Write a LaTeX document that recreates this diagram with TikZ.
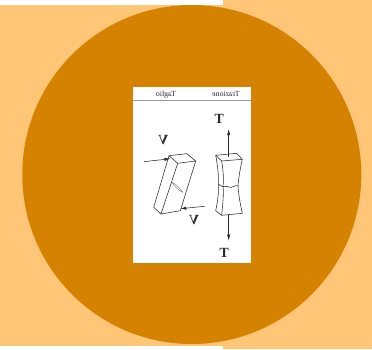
\documentclass[tikz,border=0pt]{standalone}
\usepackage{fontspec}
\setmainfont{Liberation Serif}
\usetikzlibrary{arrows.meta}
\definecolor{Peach}{HTML}{FFC677}
\definecolor{Ochre}{HTML}{D48200}
\definecolor{Rule}{HTML}{9A9A9A}
\definecolor{Ink}{HTML}{2A2A2A}

\begin{document}
\begin{tikzpicture}[
    x=1pt,y=-1pt,
    head/.style={xscale=-1,inner sep=0pt,font=\fontsize{7.8}{9}\selectfont,text=Ink},
    force/.style={xscale=-1,inner sep=0pt,font=\fontsize{14}{15}\selectfont\bfseries,text=Ink},
    edge/.style={draw=Ink,line width=.55pt,line join=round},
    arr/.style={-{Latex[length=6pt,width=3.2pt]},draw=Ink,line width=.55pt}
  ]
    \useasboundingbox (0,0) rectangle (372,349);
    % background
    \fill[white] (0,0) rectangle (372,349);
    \fill[Peach] (223,0) rectangle (372,349);
    \fill[Peach] (0,5) rectangle (223,346);
    \fill[Ochre] (191.8,174.5) circle (169.5);
    \fill[white] (133,87) rectangle (251,263);
    \draw[Rule,line width=.7pt] (133,100.8) -- (251,100.8);
    \fill[Rule] (133.8,95) circle (.5);
    % headings
    \node[head] (trazione) at (226,94.4) {Trazione};
    \node[head] (taglio) at (166,94.4) {Taglio};
    % block in shear
    \coordinate (b1) at (169,155.7);
    \coordinate (b2) at (186.7,153.7);
    \coordinate (b3) at (195.7,161);
    \coordinate (b4) at (177.7,163.3);
    \coordinate (b5) at (153.7,207.3);
    \coordinate (b6) at (161,214);
    \coordinate (b7) at (180.3,210.7);
    \draw[edge] (b1)--(b2)--(b3)--(b4)--cycle;
    \draw[edge] (b1)--(b5)--(b6)--(b4);
    \draw[edge] (b6)--(b7)--(b3);
    \draw[draw=Ink!70,line width=.35pt,fill=white] (172,182.3) .. controls (176,184) and (180,188) .. (182.7,192.3)
      .. controls (178.5,190) and (174.5,186.5) .. (172,182.3);
    \coordinate (vin) at (144,161.7);
    \coordinate (vtip) at (170.5,158.7);
    \coordinate (uin) at (204.7,206.3);
    \coordinate (utip) at (180.3,208.7);
    \draw[arr] (vin)--(vtip);
    \draw[arr] (uin)--(utip);
    \node[force] (vtop) at (163.3,140) {V};
    \node[force] (vbot) at (194,220) {V};
    % specimen in tension
    \coordinate (s1) at (215.7,155.3);
    \coordinate (s2) at (236.7,153.3);
    \coordinate (s3) at (242.3,159.3);
    \coordinate (s4) at (221.7,161);
    \coordinate (s5) at (215.7,210.7);
    \coordinate (s6) at (221.7,215.3);
    \coordinate (s7) at (242.3,213.3);
    \coordinate (c1) at (218.3,184);
    \coordinate (c2) at (223,186);
    \coordinate (c3) at (238,186);
    \draw[edge] (s1)--(s2)--(s3)--(s4)--cycle;
    \draw[edge] (s1) .. controls (217.5,165) and (219,176) .. (c1);
    \draw[edge] (s4) .. controls (223,170) and (224,178) .. (c2);
    \draw[edge] (s3) .. controls (240,170) and (238.5,178) .. (c3);
    \draw[edge] (c1) .. controls (224,189) and (226,185) .. (229,187)
      .. controls (232,189) and (235,184) .. (c3);
    \draw[edge] (c1) .. controls (219,193) and (217.5,202) .. (s5);
    \draw[edge] (c2) .. controls (224,195) and (222.5,205) .. (s6);
    \draw[edge] (c3) .. controls (238.5,195) and (240.5,205) .. (s7);
    \draw[edge] (s5)--(s6)--(s7);
    \coordinate (tin) at (228.7,156.5);
    \coordinate (ttip) at (228.7,129);
    \coordinate (bin) at (228.7,215);
    \coordinate (btip) at (228.7,240.7);
    \draw[arr] (tin)--(ttip);
    \draw[arr] (bin)--(btip);
    \node[force] (ttop) at (219.3,119) {T};
    \node[force] (tbot) at (224.3,252.5) {T};
  \end{tikzpicture}
\end{document}
